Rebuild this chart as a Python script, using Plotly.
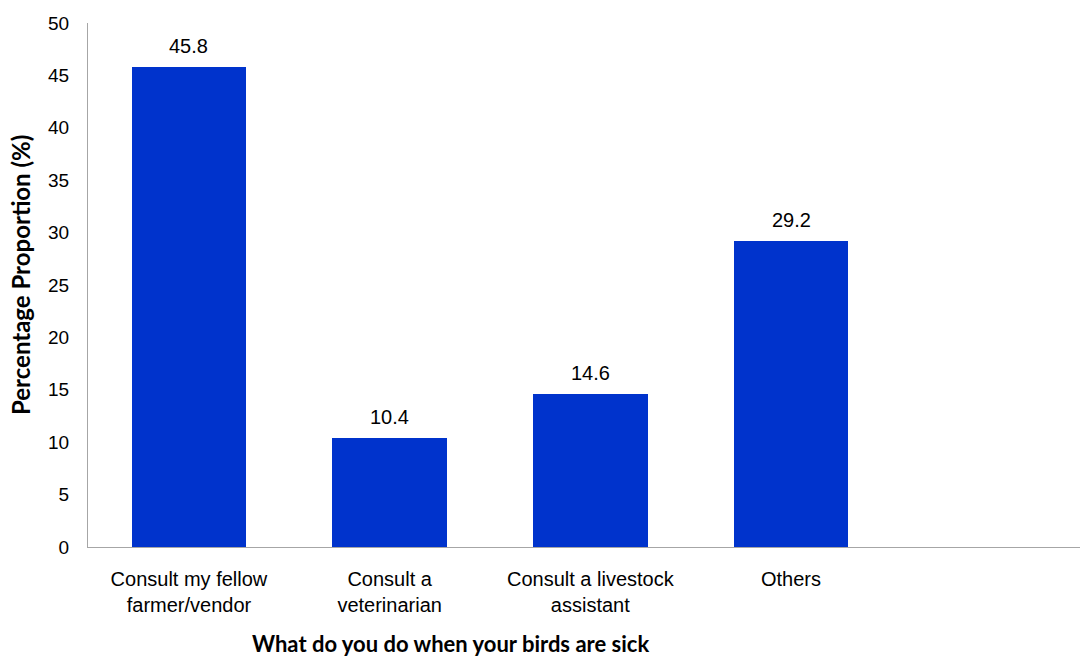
import plotly.graph_objects as go

categories = ["Consult my fellow<br>farmer/vendor", "Consult a<br>veterinarian",
              "Consult a livestock<br>assistant", "Others"]
values = [45.8, 10.4, 14.6, 29.2]
value_labels = ["45.8", "10.4", "14.6", "29.2"]
y_ticks = [0, 5, 10, 15, 20, 25, 30, 35, 40, 45, 50]

fig = go.Figure()
fig.add_trace(go.Bar(
    x=list(range(len(categories))), y=values,
    marker=dict(color="#0033CC", line=dict(width=0)),
    width=0.57,
))

for i, (v, t) in enumerate(zip(values, value_labels)):
    fig.add_annotation(x=i, y=v, text=t, showarrow=False, yanchor="bottom",
                       yshift=8, font=dict(family="Liberation Sans, Arial", size=20, color="#000"))

fig.update_layout(
    width=1082, height=657,
    margin=dict(l=88, r=2, t=23, b=110),
    plot_bgcolor="white", paper_bgcolor="white",
    showlegend=False,
    font=dict(family="Liberation Sans, Arial", size=19, color="#000"),
    bargap=0,
)
fig.update_xaxes(
    range=[-0.503, 4.44],
    tickmode="array", tickvals=list(range(len(categories))), ticktext=categories,
    showline=True, linecolor="#A6A6A6", linewidth=1,
    showgrid=False, zeroline=False,
    ticks="outside", ticklen=14, tickcolor="rgba(0,0,0,0)",
    tickfont=dict(size=20),
)
fig.update_yaxes(
    range=[0, 50], tickmode="array", tickvals=y_ticks,
    showline=True, linecolor="#A6A6A6", linewidth=1,
    showgrid=False, zeroline=False,
    ticks="outside", ticklen=14, tickcolor="rgba(0,0,0,0)",
    tickfont=dict(size=19),
)
fig.add_annotation(xref="paper", yref="paper", x=-(88 - 20) / 992, y=(547 - 275) / 524,
                   text="<b>Percentage Proportion (%)</b>", showarrow=False, textangle=-90,
                   xanchor="center", yanchor="middle",
                   font=dict(family="Lato, Open Sans", size=24, color="#000"))
fig.add_annotation(xref="paper", yref="paper", x=(450 - 88) / 992, y=-(643 - 547) / 524,
                   text="<b>What do you do when your birds are sick</b>", showarrow=False,
                   xanchor="center", yanchor="middle",
                   font=dict(family="Lato, Open Sans", size=22, color="#000"))

fig.write_html("out.html")
